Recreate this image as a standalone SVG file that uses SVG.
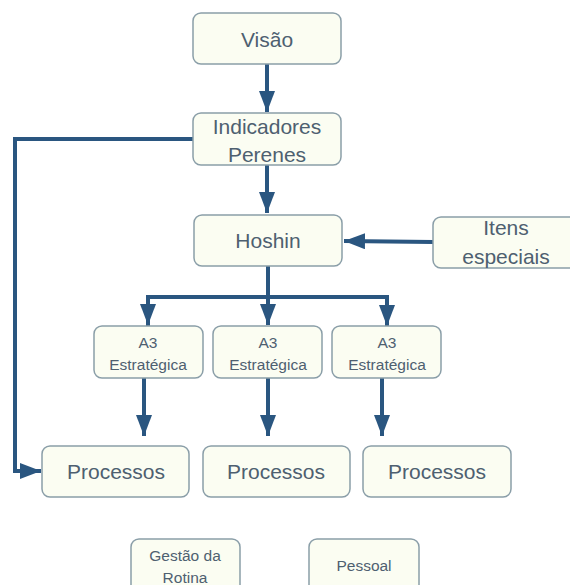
<svg xmlns="http://www.w3.org/2000/svg" width="570" height="585" viewBox="0 0 570 585">
<style>
.box{fill:#fbfdf2;stroke:#8a9ea8;stroke-width:1.5}
.t{font-family:"Liberation Sans",Arial,sans-serif;fill:#4e6070;text-anchor:middle}
.big{font-size:21px}
.sm{font-size:15.5px}
.c{fill:none;stroke:#2a5680;stroke-width:4}
</style>
<defs>
<marker id="ah" markerUnits="userSpaceOnUse" markerWidth="22" markerHeight="18" refX="21" refY="8" orient="auto">
<path d="M0,0 L21,8 L0,16 Z" fill="#2a5680"/>
</marker>
</defs>
<rect width="570" height="585" fill="#ffffff"/>
<g id="connectors">
<path class="c" d="M267,64 V112" marker-end="url(#ah)"/>
<path class="c" d="M267,165 V213" marker-end="url(#ah)"/>
<path class="c" d="M193,139 H15 V471 H41" marker-end="url(#ah)"/>
<path class="c" d="M433,242 L344,241" marker-end="url(#ah)"/>
<path class="c" d="M268,266 V297"/>
<path class="c" d="M148,326 V297 H387 V326" marker-end="url(#ah)"/>
<path class="c" d="M148,297 V325" marker-end="url(#ah)"/>
<path class="c" d="M268,297 V325" marker-end="url(#ah)"/>
<path class="c" d="M144,378 V436" marker-end="url(#ah)"/>
<path class="c" d="M268,378 V436" marker-end="url(#ah)"/>
<path class="c" d="M382,378 V436" marker-end="url(#ah)"/>
</g>
<g id="visao"><rect class="box" x="193" y="13" width="148" height="51" rx="8"/><text class="t big" x="267" y="47">Visão</text></g>
<g id="indicadores"><rect class="box" x="193" y="113" width="148" height="52" rx="8"/><text class="t big" x="267" y="134">Indicadores</text><text class="t big" x="267" y="162">Perenes</text></g>
<g id="hoshin"><rect class="box" x="194" y="215" width="148" height="51" rx="8"/><text class="t big" x="268" y="248">Hoshin</text></g>
<g id="itens"><rect class="box" x="433" y="217" width="150" height="51" rx="8"/><text class="t big" x="506" y="235">Itens</text><text class="t big" x="506" y="264">especiais</text></g>
<g id="a3-1"><rect class="box" x="94" y="326" width="109" height="52" rx="8"/><text class="t sm" x="148" y="348">A3</text><text class="t sm" x="148" y="370">Estratégica</text></g>
<g id="a3-2"><rect class="box" x="213" y="326" width="109" height="52" rx="8"/><text class="t sm" x="268" y="348">A3</text><text class="t sm" x="268" y="370">Estratégica</text></g>
<g id="a3-3"><rect class="box" x="332" y="326" width="109" height="52" rx="8"/><text class="t sm" x="387" y="348">A3</text><text class="t sm" x="387" y="370">Estratégica</text></g>
<g id="processos-1"><rect class="box" x="42" y="446" width="147" height="51" rx="8"/><text class="t big" x="116" y="479">Processos</text></g>
<g id="processos-2"><rect class="box" x="203" y="446" width="147" height="51" rx="8"/><text class="t big" x="276" y="479">Processos</text></g>
<g id="processos-3"><rect class="box" x="363" y="446" width="148" height="51" rx="8"/><text class="t big" x="437" y="479">Processos</text></g>
<g id="gestao"><rect class="box" x="131" y="539" width="109" height="55" rx="8"/><text class="t sm" x="185" y="561">Gestão da</text><text class="t sm" x="185" y="583">Rotina</text></g>
<g id="pessoal"><rect class="box" x="309" y="539" width="110" height="55" rx="8"/><text class="t sm" x="364" y="571">Pessoal</text></g>
</svg>
